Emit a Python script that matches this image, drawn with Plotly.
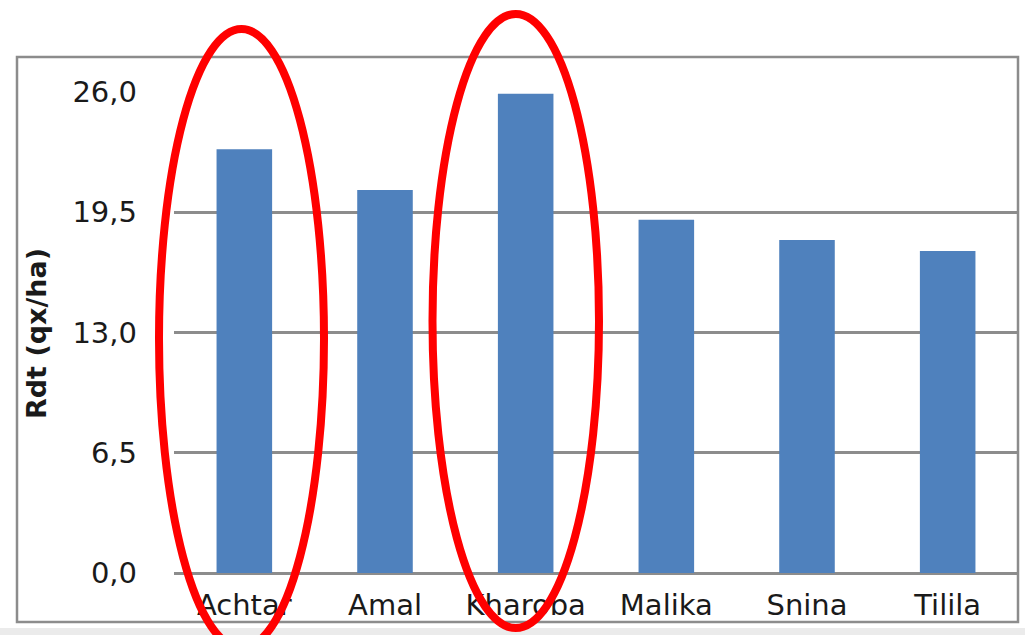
import plotly.graph_objects as go

# Wheat varieties and their grain yield (quintals per hectare)
varieties = ["Achtar", "Amal", "Kharoba", "Malika", "Snina", "Tilila"]
yields = [22.9, 20.7, 25.9, 19.1, 18.0, 17.4]
y_ticks = [0, 6.5, 13, 19.5, 26]

W, H = 1025, 635
L, R, T, B = 174, 7, 92, 62
plot_w = W - L - R
plot_h = H - T - B


def px(x):
    """Pixel column -> paper x."""
    return (x - L) / plot_w


def py(y):
    """Pixel row -> paper y."""
    return (H - B - y) / plot_h


fig = go.Figure(
    go.Bar(
        x=varieties,
        y=yields,
        marker=dict(color="#4f81bd", line=dict(width=0)),
        width=0.395,
    )
)

font_family = "DejaVu Sans"
tick_font = dict(family=font_family, size=29, color="#1a1a1a")

fig.update_layout(
    width=W,
    height=H,
    margin=dict(l=L, r=R, t=T, b=B, pad=0),
    paper_bgcolor="white",
    plot_bgcolor="white",
    separators=", ",
    showlegend=False,
    font=tick_font,
    xaxis=dict(
        showgrid=False,
        showline=False,
        zeroline=False,
        ticks="",
        tickfont=tick_font,
        ticklabelstandoff=12,
    ),
    yaxis=dict(
        range=[0, 26],
        tickvals=y_ticks,
        tickformat=".1f",
        showgrid=True,
        gridcolor="#8c8c8c",
        gridwidth=2.5,
        zeroline=True,
        zerolinecolor="#8c8c8c",
        zerolinewidth=2.5,
        showline=False,
        ticks="",
        ticklabelstandoff=36,
        tickfont=tick_font,
    ),
)

# Y axis title
fig.add_annotation(
    text="<b>Rdt (qx/ha)</b>",
    xref="paper", yref="paper",
    x=px(36), y=py(334),
    xanchor="center", yanchor="middle",
    textangle=-90,
    showarrow=False,
    font=dict(family=font_family, size=27, color="#1a1a1a"),
)

shapes = [
    # light strip under the chart frame
    dict(type="rect", xref="paper", yref="paper",
         x0=px(0), x1=px(W), y0=py(628), y1=py(H),
         fillcolor="#ebebeb", line=dict(width=0), layer="below"),
    # chart frame
    dict(type="rect", xref="paper", yref="paper",
         x0=px(17), x1=px(1018), y0=py(622), y1=py(57),
         line=dict(color="#8c8c8c", width=2.5), layer="above"),
    # highlight rings around Achtar and Kharoba
    dict(type="circle", xref="paper", yref="paper",
         x0=px(159), x1=px(324), y0=py(648), y1=py(29),
         line=dict(color="#ff0000", width=8), layer="above"),
    dict(type="circle", xref="paper", yref="paper",
         x0=px(432.5), x1=px(599), y0=py(628), y1=py(14),
         line=dict(color="#ff0000", width=8), layer="above"),
]
fig.update_layout(shapes=shapes)

fig.write_html("out.html")
